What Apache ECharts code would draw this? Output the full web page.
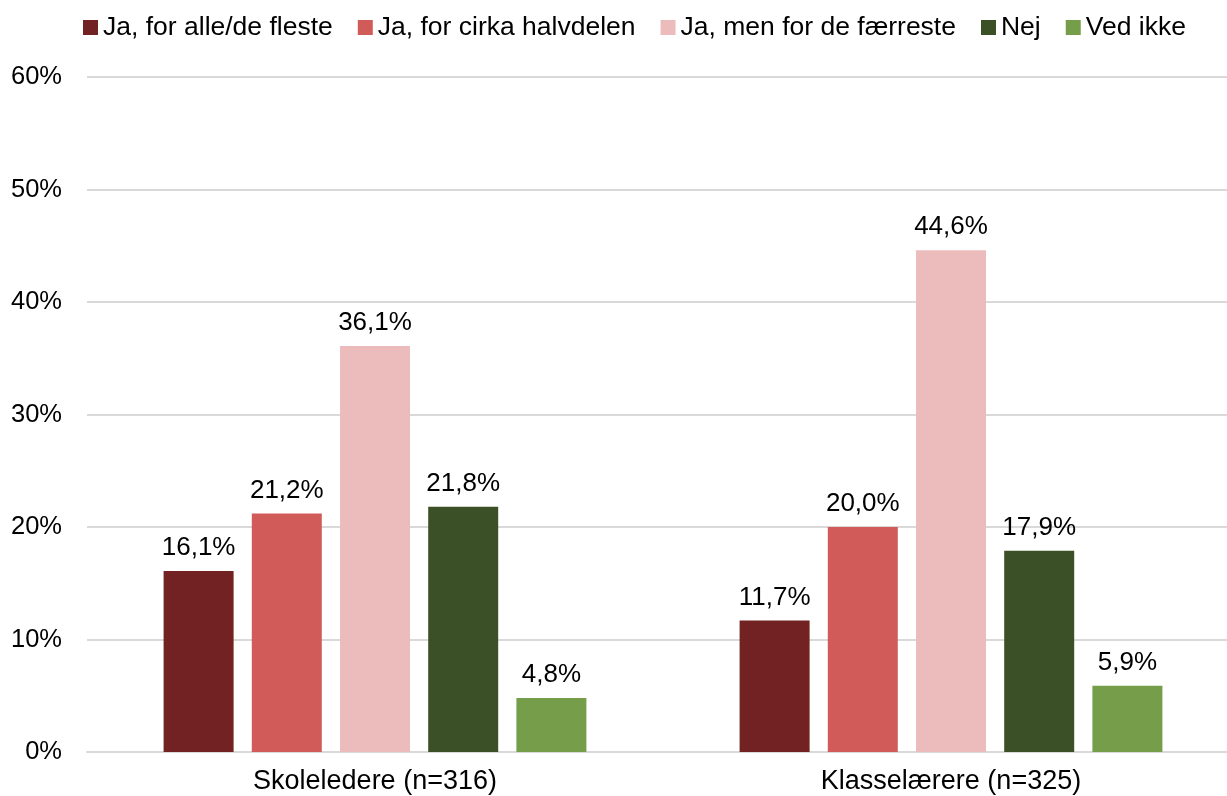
<!DOCTYPE html>
<html>
<head>
<meta charset="utf-8">
<script src="https://cdn.jsdelivr.net/npm/echarts@6/dist/echarts.min.js"></script>
<style>
html, body { margin: 0; padding: 0; background: #fff; }
#chart { width: 1227px; height: 796px; }
</style>
</head>
<body>
<div id="chart"></div>
<script>
var categories = ['Skoleledere (n=316)', 'Klasselærere (n=325)'];
var seriesNames = ['Ja, for alle/de fleste', 'Ja, for cirka halvdelen', 'Ja, men for de færreste', 'Nej', 'Ved ikke'];
var allFleste = [16.1, 11.7];
var halvdelen = [21.2, 20.0];
var faerreste = [36.1, 44.6];
var nej = [21.8, 17.9];
var vedIkke = [4.8, 5.9];
var colors = ['#722222', '#d05b58', '#ecbcbd', '#3c5027', '#769d4a'];

var values = [allFleste, halvdelen, faerreste, nej, vedIkke];
var font = 'Liberation Sans, Arial, sans-serif';

var chart = echarts.init(document.getElementById('chart'));

var series = seriesNames.map(function(name, i) {
    return {
        name: name,
        type: 'bar',
        data: values[i],
        barWidth: 70,
        barGap: '26%',
        itemStyle: { color: colors[i] },
        label: {
            show: true,
            position: 'top',
            distance: 10,
            color: '#000',
            fontSize: 26,
            fontFamily: font,
            formatter: function(p) { return p.value.toFixed(1).replace('.', ',') + '%'; }
        }
    };
});

chart.setOption({
    animation: false,
    color: colors,
    legend: {
        top: 9,
        left: 78,
        itemWidth: 15,
        itemHeight: 15,
        itemGap: 25,
        icon: 'rect',
        textStyle: { fontSize: 26.5, fontFamily: font, color: '#000' },
        data: seriesNames
    },
    grid: { left: 87, width: 1152, top: 77, bottom: 44, containLabel: false, outerBoundsMode: 'none' },
    xAxis: {
        type: 'category',
        data: categories,
        axisLine: { lineStyle: { color: '#d9d9d9', width: 2 } },
        axisTick: { show: false },
        axisLabel: { fontSize: 27, fontFamily: font, color: '#000', margin: 16 }
    },
    yAxis: {
        type: 'value',
        min: 0,
        max: 60,
        interval: 10,
        axisLine: { show: false },
        axisTick: { show: false },
        splitLine: { lineStyle: { color: '#d9d9d9', width: 2 } },
        axisLabel: { fontSize: 25.5, fontFamily: font, color: '#000', margin: 25, formatter: '{value}%' }
    },
    series: series
});
</script>
</body>
</html>
